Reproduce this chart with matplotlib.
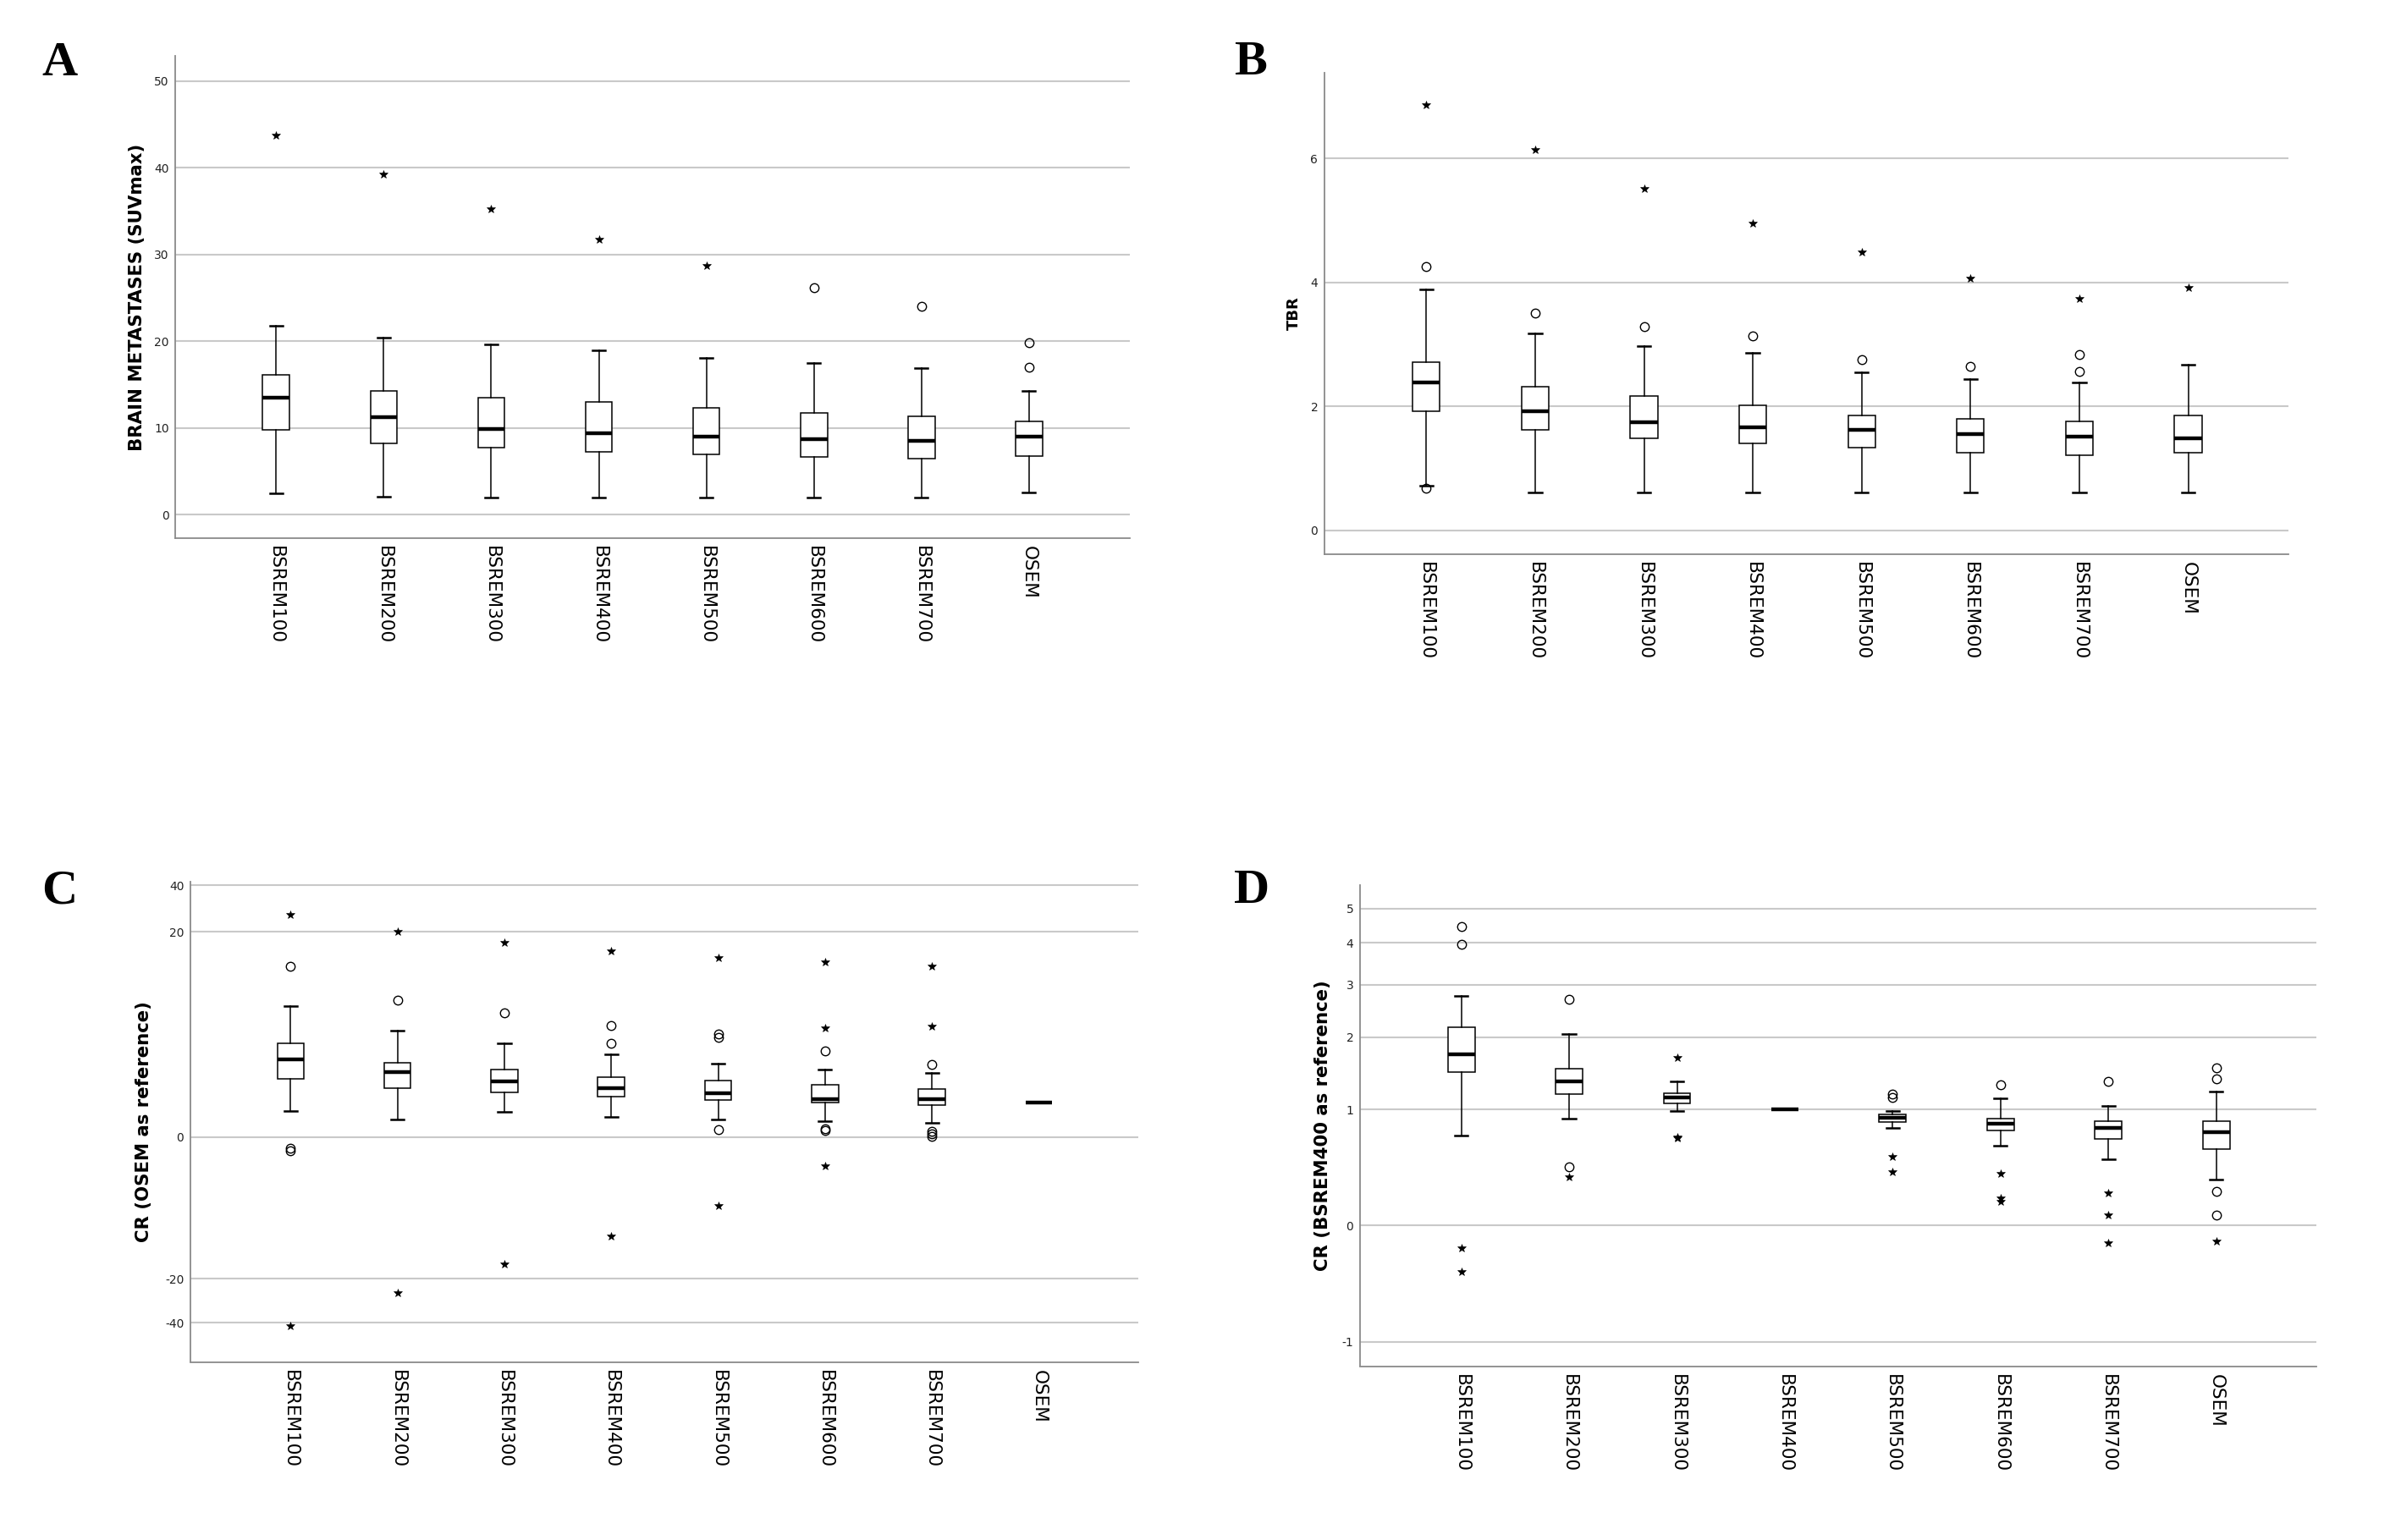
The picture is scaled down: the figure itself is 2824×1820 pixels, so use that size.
from __future__ import annotations

from typing import Callable, List, Sequence, Tuple

import matplotlib

matplotlib.use("Agg")
import matplotlib.pyplot as plt
import numpy as np

FIG_W, FIG_H = 2824, 1820

CATEGORIES = ["BSREM100", "BSREM200", "BSREM300", "BSREM400", "BSREM500", "BSREM600", "BSREM700", "OSEM"]

# Panel A: brain metastases SUVmax
A_hi = [21.8, 20.4, 19.6, 18.9, 18.1, 17.5, 16.9, 14.2]
A_q3 = [16.1, 14.2, 13.5, 13.0, 12.3, 11.7, 11.3, 10.7]
A_med = [13.5, 11.2, 9.9, 9.4, 9.0, 8.7, 8.5, 9.0]
A_q1 = [9.8, 8.2, 7.7, 7.2, 6.9, 6.6, 6.4, 6.7]
A_lo = [2.4, 2.1, 2.0, 2.0, 2.0, 2.0, 2.0, 2.5]
A_circles = [[], [], [], [], [], [26.2], [24.0], [19.8, 17.0]]
A_stars = [[43.7], [39.2], [35.2], [31.7], [28.7], [], [], []]
A_ticks = [0, 10, 20, 30, 40, 50]

# Panel B: TBR
B_hi = [3.89, 3.18, 2.97, 2.86, 2.55, 2.44, 2.39, 2.67]
B_q3 = [2.72, 2.32, 2.17, 2.02, 1.85, 1.80, 1.76, 1.85]
B_med = [2.38, 1.92, 1.75, 1.67, 1.62, 1.55, 1.52, 1.48]
B_q1 = [1.92, 1.62, 1.49, 1.41, 1.34, 1.25, 1.22, 1.25]
B_lo = [0.72, 0.61, 0.61, 0.61, 0.61, 0.61, 0.61, 0.61]
B_circles = [[4.25, 0.68], [3.50], [3.28], [3.13], [2.76], [2.65], [2.83, 2.56], []]
B_stars = [[6.86], [6.14], [5.51], [4.95], [4.48], [4.07], [3.74], [3.92]]
B_ticks = [0, 2, 4, 6]

# Panel C: CR with OSEM as reference
C_hi = [12.72, 10.34, 9.14, 8.06, 7.16, 6.59, 6.21, 3.40]
C_q3 = [9.09, 7.24, 6.59, 5.86, 5.52, 5.09, 4.66, 3.40]
C_med = [7.59, 6.34, 5.43, 4.78, 4.27, 3.71, 3.66, 3.40]
C_q1 = [5.65, 4.74, 4.35, 3.97, 3.58, 3.32, 3.15, 3.40]
C_lo = [2.54, 1.68, 2.46, 1.98, 1.72, 1.51, 1.38, 3.40]
C_circles = [[16.64, -1.63, -1.94], [13.32], [12.07], [10.86, 9.14], [10.04, 9.74, 0.73],
             [8.36, 0.82, 0.65], [7.07, 0.52, 0.30, 0.09], []]
C_stars = [[27.2, -41.2], [20.0, -26.6], [18.97, -18.0], [18.1, -14.06], [17.46, -9.69],
           [17.03, 10.6, -4.06], [16.64, 10.78], []]
C_ticks = [-40, -20, 0, 20, 40]

# Panel D: CR with BSREM400 as reference
D_hi = [2.79, 2.06, 1.39, 1.0, 0.99, 1.15, 1.055, 1.245]
D_q3 = [2.20, 1.56, 1.23, 1.0, 0.96, 0.92, 0.897, 0.897]
D_med = [1.76, 1.39, 1.17, 1.0, 0.93, 0.88, 0.843, 0.805]
D_q1 = [1.52, 1.21, 1.09, 1.0, 0.89, 0.82, 0.748, 0.656]
D_lo = [0.775, 0.92, 0.99, 1.0, 0.84, 0.69, 0.569, 0.393]
D_circles = [[4.47, 3.97], [2.73, 0.504], [], [], [1.21, 1.17], [1.34], [1.39], [1.58, 1.42, 0.294, 0.092]]
D_stars = [[-0.195, -0.40], [0.416], [1.72, 0.76, 0.75], [], [0.59, 0.46], [0.45, 0.237, 0.206],
           [0.282, 0.092, -0.152], [-0.137]]
D_ticks = [-1, 0, 1, 2, 3, 4, 5]

# the C and D axes use an uneven (SPSS-transformed) scale: relative spacing between ticks
C_SCALE_SPACING = [0, 100, 420, 884, 989]
D_SCALE_SPACING = [0, 263, 525, 688, 807, 902, 979]

GRID_COLOR = "#c9c9c9"
SPINE_COLOR = "#8a8a8a"


def knot_scale(values: Sequence[float], spacing: Sequence[float]) -> Tuple[Callable, Callable]:
    """Piecewise linear forward/inverse functions with linear extrapolation."""
    xp = np.asarray(values, dtype=float)
    fp = np.asarray(spacing, dtype=float)

    def _map(x, a, b):
        x = np.asarray(x, dtype=float)
        y = np.interp(x, a, b)
        lo_slope = (b[1] - b[0]) / (a[1] - a[0])
        hi_slope = (b[-1] - b[-2]) / (a[-1] - a[-2])
        y = np.where(x < a[0], b[0] + (x - a[0]) * lo_slope, y)
        y = np.where(x > a[-1], b[-1] + (x - a[-1]) * hi_slope, y)
        return y

    return (lambda x: _map(x, xp, fp)), (lambda y: _map(y, fp, xp))


def draw_panel(
    ax: plt.Axes,
    hi: List[float],
    q3: List[float],
    med: List[float],
    q1: List[float],
    lo: List[float],
    circles: List[List[float]],
    stars: List[List[float]],
) -> None:
    """SPSS style boxplots: white boxes, thick medians, o outliers and * extremes."""
    stats = [
        dict(med=m, q1=a, q3=b, whislo=l, whishi=h, fliers=[])
        for m, a, b, l, h in zip(med, q1, q3, lo, hi)
    ]
    positions = np.arange(len(stats))
    ax.bxp(
        stats,
        positions=positions,
        widths=0.25,
        capwidths=0.12,
        showfliers=False,
        patch_artist=True,
        boxprops=dict(facecolor="white", edgecolor="black", linewidth=1.1),
        medianprops=dict(color="black", linewidth=3.2, solid_capstyle="butt"),
        whiskerprops=dict(color="black", linewidth=1.1),
        capprops=dict(color="black", linewidth=1.8),
    )
    for pos, vals in zip(positions, circles):
        if vals:
            ax.plot([pos] * len(vals), vals, linestyle="none", marker="o", markersize=7.5,
                    markerfacecolor="none", markeredgecolor="black", markeredgewidth=1.0, zorder=4)
    for pos, vals in zip(positions, stars):
        if vals:
            ax.plot([pos] * len(vals), vals, linestyle="none", marker="*", markersize=7,
                    color="black", markeredgewidth=0.4, zorder=4)


def style_axes(ax: plt.Axes, ticks: Sequence[float], ylim: Tuple[float, float], xlim: Tuple[float, float],
               ylabel: str, label_off_px: float, label_size: float) -> None:
    ax.set_yticks(ticks)
    ax.set_yticklabels([f"{t:g}" for t in ticks])
    ax.set_ylim(*ylim)
    ax.set_xlim(*xlim)
    ax.set_xticks(np.arange(len(CATEGORIES)))
    ax.set_xticklabels(CATEGORIES, rotation=-90, fontsize=15.5, ha="center", va="top")
    ax.tick_params(axis="y", length=0, pad=5.5, labelsize=10, labelcolor="#222222")
    ax.tick_params(axis="x", length=0, pad=6.5)
    ax.yaxis.grid(True, color=GRID_COLOR, linewidth=1.5)
    ax.xaxis.grid(False)
    ax.set_axisbelow(True)
    for side in ("top", "right"):
        ax.spines[side].set_visible(False)
    for side in ("left", "bottom"):
        ax.spines[side].set_color(SPINE_COLOR)
        ax.spines[side].set_linewidth(1.3)
    ax.set_ylabel(ylabel, fontsize=label_size, fontweight="bold", va="center")
    width_px = ax.get_position().width * FIG_W
    ax.yaxis.set_label_coords(-label_off_px / width_px, 0.5)


def axes_rect(left: float, right: float, top: float, bottom: float) -> List[float]:
    return [left / FIG_W, 1 - bottom / FIG_H, (right - left) / FIG_W, (bottom - top) / FIG_H]


fig = plt.figure(figsize=(FIG_W / 100, FIG_H / 100), dpi=100)
plt.rcParams["font.family"] = ["DejaVu Sans"]

ax_a = fig.add_axes(axes_rect(207.4, 1335, 66.4, 636))
draw_panel(ax_a, A_hi, A_q3, A_med, A_q1, A_lo, A_circles, A_stars)
style_axes(ax_a, A_ticks, (-2.73, 52.85), (-0.936, 7.938), "BRAIN METASTASES (SUVmax)", 45, 15.3)

ax_b = fig.add_axes(axes_rect(1565, 2704, 86, 655))
draw_panel(ax_b, B_hi, B_q3, B_med, B_q1, B_lo, B_circles, B_stars)
style_axes(ax_b, B_ticks, (-0.382, 7.378), (-0.936, 7.921), "TBR", 36, 13)

ax_c = fig.add_axes(axes_rect(225, 1345, 1042, 1609.5))
c_fwd, c_inv = knot_scale(C_ticks, C_SCALE_SPACING)
ax_c.set_yscale("function", functions=(c_fwd, c_inv))
draw_panel(ax_c, C_hi, C_q3, C_med, C_q1, C_lo, C_circles, C_stars)
style_axes(ax_c, C_ticks, (-57.6, 41.5), (-0.937, 7.93), "CR (OSEM as reference)", 55, 15.3)

ax_d = fig.add_axes(axes_rect(1607, 2737, 1046, 1614.5))
d_fwd, d_inv = knot_scale(D_ticks, D_SCALE_SPACING)
ax_d.set_yscale("function", functions=(d_fwd, d_inv))
draw_panel(ax_d, D_hi, D_q3, D_med, D_q1, D_lo, D_circles, D_stars)
style_axes(ax_d, D_ticks, (-1.209, 5.69), (-0.939, 7.929), "CR (BSREM400 as reference)", 43.5, 15.3)

for letter, (lx, ly) in zip("ABCD", [(49, 89), (1458, 88), (49, 1068), (1458, 1067)]):
    fig.text(lx / FIG_W, 1 - ly / FIG_H, letter, fontsize=42, fontweight="bold",
             family=["Liberation Serif", "DejaVu Serif"], ha="left", va="baseline")

fig.savefig("out.png", dpi=100, facecolor="white")
